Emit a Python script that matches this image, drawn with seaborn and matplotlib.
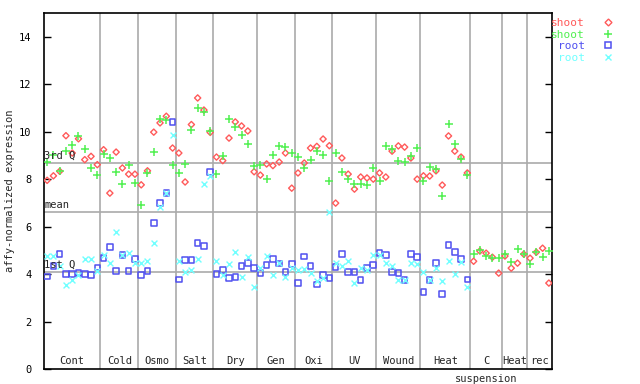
import numpy as np
import pandas as pd
import seaborn as sns
import matplotlib.pyplot as plt
from matplotlib.lines import Line2D

nan = np.nan

group_names = ['Cont', 'Cold', 'Osmo', 'Salt', 'Dry', 'Gen', 'Oxi', 'UV',
               'Wound', 'Heat', 'C', 'Heat', 'rec']
group_sizes = [9, 6, 6, 6, 7, 6, 6, 7, 7, 8, 5, 4, 4]

# shoot (red diamonds)
shoot_a = [7.95, 8.14, 8.33, 9.83, 9.10, 9.70, 8.82, 8.96, 8.61,
           9.24, 7.41, 9.14, 8.47, 8.21, 8.21,
           7.76, 8.35, 9.98, 10.37, 10.65, 9.31,
           9.10, 7.88, 10.30, 11.42, 10.91, 9.97,
           8.93, 8.78, 9.73, 10.41, 10.24, 10.03, 8.31,
           8.17, 8.64, 8.57, 8.72, 9.10, 7.62,
           8.26, 8.68, 9.31, 9.38, 9.69, 9.41,
           6.99, 8.89, 8.21, 7.58, 8.09, 8.05, 8.00,
           8.26, 8.09, 9.18, 9.40, 9.35, 8.89, 8.00,
           8.14, 8.13, 8.35, 7.75, 9.82, 9.18, 8.93, 8.26,
           4.54, 4.97, 4.88, 4.71, 4.04,
           4.76, 4.25, 4.46, 4.84,
           4.67, 4.92, 5.09, 3.62]
# shoot (green plus)
shoot_b = [8.72, 9.03, 8.35, 9.17, 9.42, 9.80, 9.28, 8.47, 8.16,
           9.06, 8.89, 8.30, 7.79, 8.58, 7.83,
           6.90, 8.26, 9.14, 10.55, 10.51, 8.59,
           8.26, 8.64, 10.07, 11.00, 10.83, 10.01,
           8.21, 8.96, 10.54, 10.20, 9.86, 9.48, 8.55,
           8.59, 8.00, 9.01, 9.40, 9.35, 9.10,
           8.93, 8.47, 8.80, 9.18, 9.01, 7.92,
           9.10, 8.30, 8.00, 7.79, 7.79, 7.75, 8.47,
           7.92, 9.40, 9.27, 8.76, 8.72, 8.99, 9.31,
           7.92, 8.51, 8.43, 7.29, 10.32, 9.48, 8.85, 8.17,
           4.84, 5.01, 4.76, 4.67, 4.67,
           4.84, 4.50, 5.05, 4.84,
           4.42, 4.92, 4.71, 4.97]
# root (blue squares)
root_a = [3.90, 4.35, 4.84, 4.00, 4.00, 4.04, 4.00, 3.97, 4.27,
          4.67, 5.13, 4.12, 4.80, 4.12, 4.63,
          3.95, 4.12, 6.15, 6.99, 7.41, 10.41,
          3.78, 4.59, 4.59, 5.30, 5.19, 8.31,
          4.00, 4.16, 3.83, 3.87, 4.33, 4.46, 4.25,
          4.04, 4.38, 4.63, 4.44, 4.08, 4.42,
          3.62, 4.74, 4.33, 3.56, 3.97, 3.83,
          4.29, 4.84, 4.08, 4.08, 3.74, 4.25, 4.38,
          4.88, 4.80, 4.08, 4.04, 3.74, 4.84, 4.71,
          3.24, 3.74, 4.46, 3.15, 5.22, 4.92, 4.63, 3.78] + [nan] * 13
# root (cyan crosses)
root_b = [4.77, 4.77, 4.32, 3.54, 3.75, 3.97, 4.63, 4.63, 4.11,
          4.82, 4.46, 5.77, 4.80, 4.88, 4.46,
          4.46, 4.54, 5.30, 6.82, 7.41, 9.87,
          4.54, 4.08, 4.16, 4.63, 7.79, 8.12,
          4.54, 3.95, 4.42, 4.92, 3.87, 4.71, 3.45,
          4.25, 4.76, 3.97, 4.46, 3.87, 4.25,
          4.18, 4.23, 4.04, 3.70, 3.83, 6.61,
          4.46, 4.33, 4.54, 3.62, 4.25, 4.16, 4.80,
          4.80, 4.46, 4.33, 3.74, 3.74, 4.46, 4.42,
          4.08, 3.74, 4.25, 3.70, 4.54, 4.01, 4.50, 3.45] + [nan] * 13

q3, mean, q1 = 8.69, 6.62, 4.09

n = len(shoot_a)
x = np.arange(n) + 0.5
df = pd.DataFrame({'x': x, 'shoot_a': shoot_a, 'shoot_b': shoot_b,
                   'root_a': root_a, 'root_b': root_b})

sns.set_theme(style='white')
plt.rcParams['font.family'] = ['DejaVu Sans Mono']
fs = 7.5

fig = plt.figure(figsize=(6.4, 3.84), dpi=100)
ax = fig.add_axes([44 / 640, 1 - 369 / 384, 508 / 640, 356 / 384])

red, green, blue, cyan = '#ff5a5a', '#50f050', '#5050f0', '#70ffff'

# grid lines
edges = np.cumsum(group_sizes)[:-1]
for e in edges:
    ax.axvline(e, color='#aaaaaa', lw=1.2, zorder=1)
for v in (q3, mean, q1):
    ax.axhline(v, color='#aaaaaa', lw=1.2, zorder=1)

sns.scatterplot(data=df, x='x', y='shoot_a', ax=ax, marker='D', s=10,
                facecolor='none', edgecolor=red, linewidth=1.0, zorder=3)
sns.scatterplot(data=df, x='x', y='shoot_b', ax=ax, marker='+', s=28,
                color=green, linewidth=1.1, zorder=3)
sns.scatterplot(data=df, x='x', y='root_a', ax=ax, marker='s', s=16,
                facecolor='none', edgecolor=blue, linewidth=1.1, zorder=3)
sns.scatterplot(data=df, x='x', y='root_b', ax=ax, marker='x', s=18,
                color=cyan, linewidth=1.0, zorder=3)

ax.set_xlim(0, n)
ax.set_ylim(0, 15)
ax.set_xticks([])
ax.set_yticks(range(0, 15, 2))
ax.set_xlabel('')
ax.set_ylabel('affy-normalized expression', fontsize=fs, labelpad=3)
ax.tick_params(axis='y', direction='in', length=5, width=1, labelsize=fs,
               pad=9, right=True, left=True, colors='black')
for sp in ax.spines.values():
    sp.set_color('black')
    sp.set_linewidth(1.2)

# quartile labels
for v, t in ((q3, '3rd Q'), (mean, 'mean'), (q1, '1st Q')):
    ax.text(0.05, v + 0.08, t, fontsize=fs, va='bottom', ha='left')

# group labels
starts = np.concatenate([[0], edges])
for s, size, name in zip(starts, group_sizes, group_names):
    ax.text(s + size / 2, 0.12, name, fontsize=fs, ha='center', va='bottom')
c_idx = group_names.index('C')
ax.text(starts[c_idx] + group_sizes[c_idx] / 2, -0.2, 'suspension',
        fontsize=fs, ha='center', va='top', clip_on=False)

# legend
handles = [
    Line2D([], [], ls='', marker='D', ms=3.5, mfc='none', mec=red, mew=1.0),
    Line2D([], [], ls='', marker='+', ms=5.5, color=green, mew=1.1),
    Line2D([], [], ls='', marker='s', ms=4, mfc='none', mec=blue, mew=1.1),
    Line2D([], [], ls='', marker='x', ms=4, color=cyan, mew=1.0),
]
leg = fig.legend(handles, ['shoot', 'shoot', 'root', 'root'], loc='upper left',
                 bbox_to_anchor=(551 / 640, 1 - 18 / 384), markerfirst=False,
                 frameon=False, fontsize=8, handlelength=1.0,
                 handletextpad=1.6, labelspacing=0.15, borderaxespad=0,
                 borderpad=0, alignment='right')
for txt, c in zip(leg.get_texts(), [red, green, blue, cyan]):
    txt.set_color(c)

fig.savefig('out.png', dpi=100)
